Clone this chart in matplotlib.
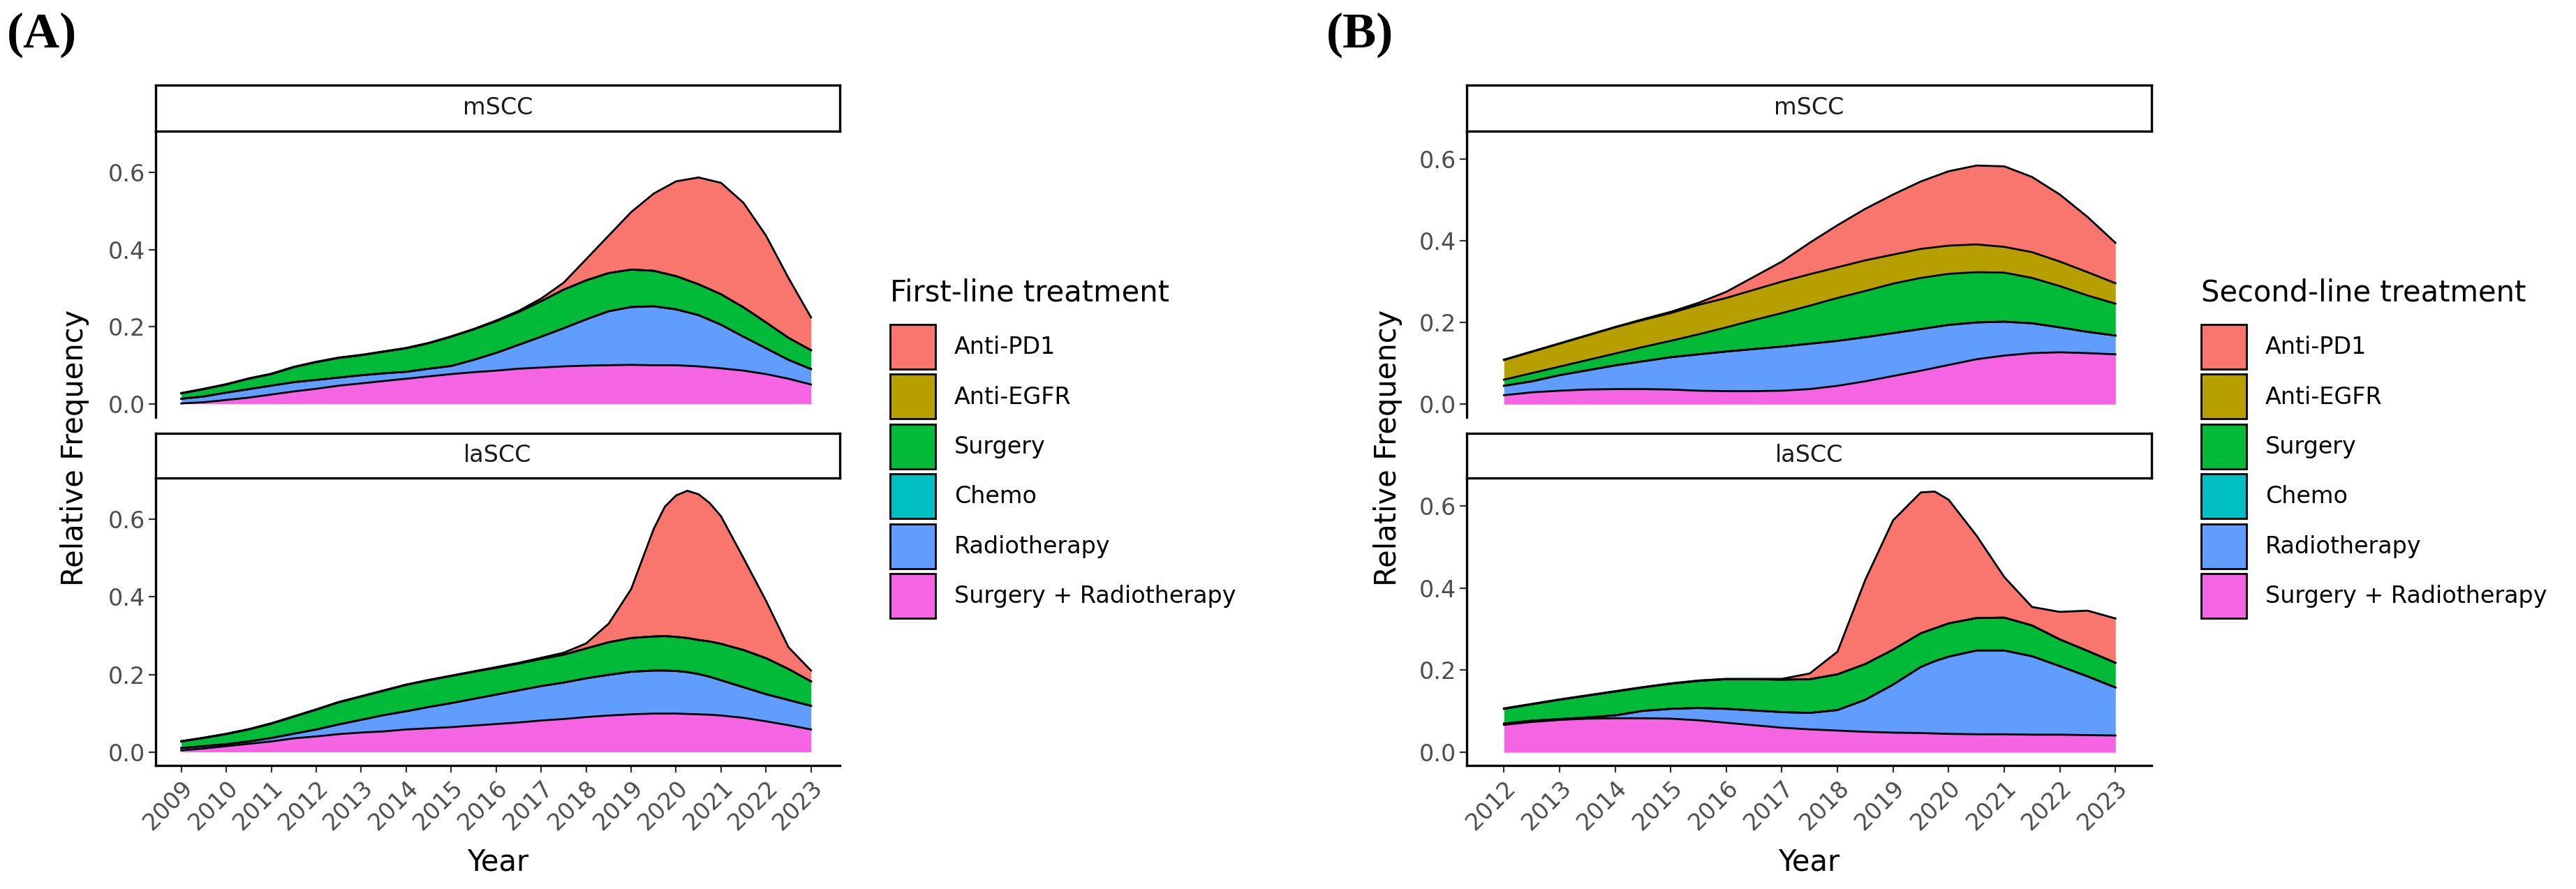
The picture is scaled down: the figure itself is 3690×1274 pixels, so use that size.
import numpy as np
import matplotlib
matplotlib.use('Agg')
import matplotlib.pyplot as plt
from matplotlib.patches import Patch

# legend order (top of the stack first) and ggplot hue colours
treatments = ['Anti-PD1', 'Anti-EGFR', 'Surgery', 'Chemo', 'Radiotherapy', 'Surgery + Radiotherapy']
colours = ['#F8766D', '#B79F00', '#00BA38', '#00BFC4', '#619CFF', '#F564E3']

# ---- (A) first-line treatment, values every half year ----
tickYearsA = list(range(2009, 2024))

yearsA_mSCC = list(np.arange(2009, 2023.5, 0.5))
mSCC_A_surgRadio = [.001, .004, .010, .016, .024, .032, .039, .047, .053, .059, .065, .071, .077, .082, .086,
                    .091, .094, .097, .099, .100, .101, .100, .100, .097, .092, .086, .077, .065, .050]
mSCC_A_radio = [.012, .015, .019, .022, .023, .024, .023, .021, .021, .020, .018, .020, .021, .032, .046,
                .062, .080, .099, .120, .140, .150, .153, .145, .133, .113, .088, .067, .049, .040]
mSCC_A_chemo = [0] * 29
mSCC_A_surgery = [.014, .019, .021, .027, .030, .039, .046, .051, .052, .056, .061, .066, .076, .079, .082,
                  .085, .092, .100, .101, .099, .097, .092, .086, .080, .079, .076, .067, .057, .049]
mSCC_A_egfr = [0] * 29
mSCC_A_pd1 = [.001, .001, .001, .001, .001, .001, .001, .001, .001, .001, .001, .001, .001, .001, .002,
              .003, .007, .018, .055, .097, .149, .200, .246, .277, .289, .271, .225, .155, .085]

# laSCC has a few extra quarter-year readings around the sharp peak
yearsA_laSCC = [2009, 2009.5, 2010, 2010.5, 2011, 2011.5, 2012, 2012.5, 2013, 2013.5, 2014, 2014.5,
                2015, 2015.5, 2016, 2016.5, 2017, 2017.5, 2018, 2018.5, 2019, 2019.5, 2019.75, 2020,
                2020.25, 2020.5, 2020.75, 2021, 2021.5, 2022, 2022.5, 2023]
laSCC_A_surgRadio = [.004, .009, .015, .021, .027, .035, .040, .046, .050, .053, .058, .061, .064, .068, .072,
                     .076, .081, .085, .090, .094, .097, .099, .099, .099, .098, .097, .096, .094, .088,
                     .079, .069, .058]
laSCC_A_radio = [.006, .006, .005, .006, .009, .012, .018, .025, .033, .042, .047, .055, .062, .069, .076,
                 .083, .089, .094, .100, .105, .110, .111, .111, .110, .108, .104, .098, .091, .079,
                 .070, .065, .061]
laSCC_A_chemo = [0] * 32
laSCC_A_surgery = [.017, .021, .026, .031, .037, .044, .051, .057, .060, .063, .068, .069, .070, .070, .069,
                   .069, .070, .072, .077, .084, .087, .088, .089, .088, .088, .088, .091, .094, .096,
                   .093, .080, .063]
laSCC_A_egfr = [0] * 32
laSCC_A_pd1 = [.001, .001, .001, .001, .001, .001, .001, .001, .001, .001, .001, .001, .001, .001, .002,
               .002, .003, .005, .013, .048, .126, .277, .334, .365, .380, .376, .357, .329, .237,
               .148, .056, .028]

# ---- (B) second-line treatment ----
tickYearsB = list(range(2012, 2024))

yearsB_mSCC = list(np.arange(2012, 2023.5, 0.5))
mSCC_B_surgRadio = [.022, .029, .033, .036, .037, .037, .036, .033, .032, .032, .033, .037, .045, .056, .069,
                    .082, .096, .110, .119, .125, .127, .125, .122]
mSCC_B_radio = [.023, .027, .038, .047, .058, .068, .079, .089, .097, .103, .108, .111, .110, .108, .105,
                .102, .098, .090, .083, .073, .061, .052, .046]
mSCC_B_chemo = [0] * 23
mSCC_B_surgery = [.015, .020, .021, .025, .029, .035, .040, .049, .059, .071, .082, .093, .105, .113, .121,
                  .125, .125, .123, .120, .111, .101, .089, .078]
mSCC_B_egfr = [.048, .052, .056, .060, .064, .066, .068, .072, .072, .074, .077, .077, .075, .075, .071,
               .071, .069, .068, .063, .063, .060, .057, .050]
mSCC_B_pd1 = [.001, .001, .001, .001, .001, .002, .003, .005, .015, .032, .049, .077, .103, .126, .147,
              .165, .182, .193, .197, .184, .164, .135, .099]

yearsB_laSCC = [2012, 2012.5, 2013, 2013.5, 2014, 2014.5, 2015, 2015.5, 2016, 2016.5, 2017, 2017.5,
                2018, 2018.5, 2019, 2019.5, 2019.75, 2020, 2020.5, 2021, 2021.5, 2022, 2022.5, 2023]
laSCC_B_surgRadio = [.067, .074, .079, .082, .083, .083, .082, .078, .072, .066, .060, .056, .053, .050, .048,
                     .047, .046, .045, .044, .044, .043, .043, .042, .041]
laSCC_B_radio = [.003, .003, .002, .003, .007, .018, .024, .030, .034, .036, .038, .040, .050, .078, .117,
                 .161, .176, .188, .204, .204, .191, .167, .143, .117]
laSCC_B_chemo = [0] * 24
laSCC_B_surgery = [.036, .040, .047, .053, .058, .057, .061, .066, .072, .076, .079, .082, .087, .087, .085,
                   .082, .080, .081, .079, .080, .075, .065, .062, .060]
laSCC_B_egfr = [0] * 24
laSCC_B_pd1 = [.001, .001, .001, .001, .001, .001, .001, .001, .001, .001, .002, .014, .055, .205, .315,
               .343, .333, .301, .201, .099, .045, .067, .098, .108]

W, H = 3690, 1274


def box(x0, y0, x1, y1):
    # pixel box (top-left origin) -> figure fraction rect
    return [x0 / W, 1 - y1 / H, (x1 - x0) / W, (y1 - y0) / H]


def drawStrip(fig, rect, label):
    sax = fig.add_axes(rect)
    sax.set_xticks([])
    sax.set_yticks([])
    for s in sax.spines.values():
        s.set_linewidth(2.4)
        s.set_color('black')
    sax.text(0.5, 0.5, label, ha='center', va='center', fontsize=24, color='#1A1A1A',
             transform=sax.transAxes)


def drawPanel(fig, rect, years, layers, xlim, ylim, showX, ticks):
    # layers are given bottom -> top
    ax = fig.add_axes(rect)
    base = np.zeros(len(years))
    tops = []
    for vals, col in layers:
        top = base + np.array(vals)
        ax.fill_between(years, base, top, color=col, linewidth=0, zorder=2)
        tops.append(top)
        base = top
    for top in tops:
        ax.plot(years, top, color='black', linewidth=2.0, solid_joinstyle='round', zorder=3)
    ax.set_xlim(xlim)
    ax.set_ylim(ylim)
    ax.set_yticks([0, 0.2, 0.4, 0.6])
    ax.set_yticklabels(['0.0', '0.2', '0.4', '0.6'])
    for side in ['top', 'right']:
        ax.spines[side].set_visible(False)
    ax.spines['left'].set_linewidth(2.4)
    ax.tick_params(axis='both', length=7, width=1.6, color='#333333', labelsize=24,
                   labelcolor='#4D4D4D', pad=4)
    if showX:
        ax.spines['bottom'].set_linewidth(2.4)
        ax.set_xticks(ticks)
        ax.set_xticklabels([str(t) for t in ticks], rotation=45, ha='right',
                           rotation_mode='anchor')
    else:
        ax.spines['bottom'].set_visible(False)
        ax.set_xticks([])
    return ax


def stack(sr, rt, ch, su, eg, pd1):
    return [(sr, colours[5]), (rt, colours[4]), (ch, colours[3]),
            (su, colours[2]), (eg, colours[1]), (pd1, colours[0])]


fig = plt.figure(figsize=(W / 100, H / 100), dpi=100)

xlimA = (2008.43, 2023.64)
ylimA = (-0.035, 0.707)
xlimB = (2011.33, 2023.65)
ylimB = (-0.032, 0.668)

for x0, x1, xlim, ylim, ticks, yTop, top, yBot, bottom in [
    (223, 1203, xlimA, ylimA, tickYearsA,
     yearsA_mSCC,
     stack(mSCC_A_surgRadio, mSCC_A_radio, mSCC_A_chemo, mSCC_A_surgery, mSCC_A_egfr, mSCC_A_pd1),
     yearsA_laSCC,
     stack(laSCC_A_surgRadio, laSCC_A_radio, laSCC_A_chemo, laSCC_A_surgery, laSCC_A_egfr, laSCC_A_pd1)),
    (2101, 3082, xlimB, ylimB, tickYearsB,
     yearsB_mSCC,
     stack(mSCC_B_surgRadio, mSCC_B_radio, mSCC_B_chemo, mSCC_B_surgery, mSCC_B_egfr, mSCC_B_pd1),
     yearsB_laSCC,
     stack(laSCC_B_surgRadio, laSCC_B_radio, laSCC_B_chemo, laSCC_B_surgery, laSCC_B_egfr, laSCC_B_pd1))]:
    drawPanel(fig, box(x0, 188, x1, 598), yTop, top, xlim, ylim, False, ticks)
    drawStrip(fig, box(x0, 122, x1, 188), 'mSCC')
    drawPanel(fig, box(x0, 685, x1, 1097), yBot, bottom, xlim, ylim, True, ticks)
    drawStrip(fig, box(x0, 621, x1, 685), 'laSCC')
    fig.text((x0 + x1) / 2 / W, 1 - 1236 / H, 'Year', ha='center', va='center', fontsize=30)

fig.text(107 / W, 1 - 642 / H, 'Relative Frequency', rotation=90, ha='center', va='center', fontsize=30)
fig.text(1988 / W, 1 - 642 / H, 'Relative Frequency', rotation=90, ha='center', va='center', fontsize=30)

fig.text(10 / W, 1 - 18 / H, '(A)', family='Liberation Serif', fontweight='bold', fontsize=52,
         ha='left', va='top')
fig.text(1900 / W, 1 - 18 / H, '(B)', family='Liberation Serif', fontweight='bold', fontsize=52,
         ha='left', va='top')

handles = [Patch(facecolor=c, edgecolor='black', linewidth=2) for c in colours]
for lx, title in [(1275, 'First-line treatment'), (3153, 'Second-line treatment')]:
    fig.text(lx / W, 1 - 419 / H, title, ha='left', va='center', fontsize=30)
    fig.legend(handles, treatments, loc='upper left', bbox_to_anchor=(lx / W, 1 - 465 / H),
               frameon=False, fontsize=24, handlelength=1.95, handleheight=2.58,
               labelspacing=0.22, handletextpad=0.8, borderpad=0, borderaxespad=0)

fig.savefig('out.png', dpi=100)
